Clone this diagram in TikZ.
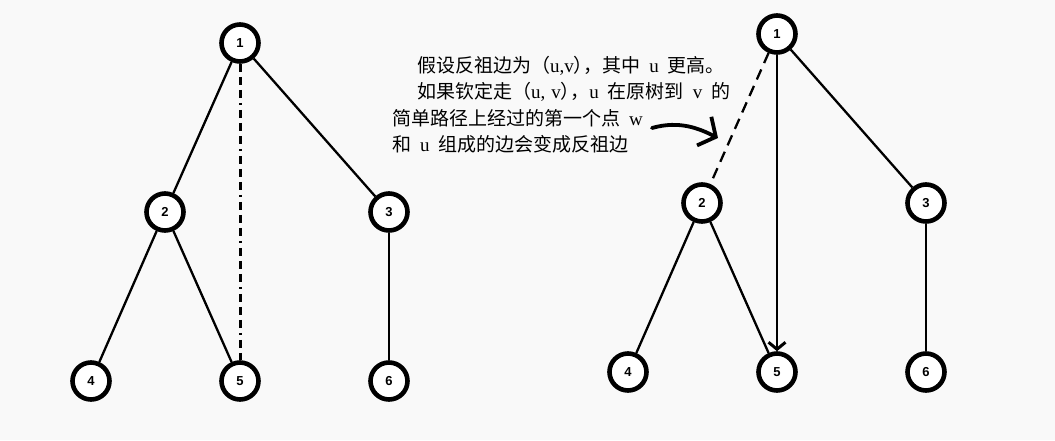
\documentclass[tikz,border=0pt]{standalone}
\usepackage{fontspec}
\setmainfont{Liberation Serif}
\newfontfamily\cjk{Noto Sans CJK SC}
\newfontfamily\cjkh[RawFeature=+halt]{Noto Sans CJK SC}
\newfontfamily\numfont{Liberation Sans}
\usetikzlibrary{arrows.meta}
\definecolor{bgc}{RGB}{249,249,249}
\begin{document}
\begin{tikzpicture}[x=1pt,y=-1pt,
  treenode/.style={circle,draw,line width=4.6pt,fill=white,minimum size=37pt,inner sep=0pt,
    font=\numfont\bfseries\fontsize{13}{13}\selectfont},
  edge/.style={line width=2.3pt},
  backdash/.style={line width=3pt,dash pattern=on 8pt off 5pt on 8pt off 5pt on 8pt off 5pt on 2pt off 5pt},
  newdash/.style={line width=2.3pt,dash pattern=on 11pt off 7pt},
  txt/.style={anchor=base west,inner sep=0pt,font=\fontsize{19}{19}\selectfont}]
\fill[bgc] (0,0) rectangle (1055,440);
\useasboundingbox (0,0) rectangle (1055,440);
% left tree
\node[treenode] (L1) at (240,43) {1};
\node[treenode] (L2) at (165,212) {2};
\node[treenode] (L3) at (389,212) {3};
\node[treenode] (L4) at (91,381) {4};
\node[treenode] (L5) at (240,381) {5};
\node[treenode] (L6) at (389,381) {6};
\draw[edge] (L1) -- (L2);
\draw[edge] (L1) -- (L3);
\draw[edge] (L2) -- (L4);
\draw[edge] (L2) -- (L5);
\draw[edge] (L3) -- (L6);
\draw[backdash] (L1) -- (L5);
% right tree
\node[treenode] (R1) at (777,34) {1};
\node[treenode] (R2) at (702,203) {2};
\node[treenode] (R3) at (926,203) {3};
\node[treenode] (R4) at (628,372) {4};
\node[treenode] (R5) at (777,372) {5};
\node[treenode] (R6) at (926,372) {6};
\draw[edge] (R1) -- (R3);
\draw[edge] (R2) -- (R4);
\draw[edge] (R2) -- (R5);
\draw[edge] (R3) -- (R6);
\draw[newdash] (R1) -- (R2);
\draw[edge,-{Straight Barb[length=7pt,width=17pt,line width=3pt]}] (R1) -- (R5);
% text
\node[txt] (t1) at (417,72.5) {{\cjk 假设反祖边为（}u,v{\cjkh ）}{\cjk ，其中}\hspace{9pt}u\hspace{9pt}{\cjk 更高。}};
\node[txt] (t2) at (417,98.5) {{\cjk 如果钦定走（}u,\hspace{6pt}v{\cjkh ）}{\cjk ，}u\hspace{9pt}{\cjk 在原树到}\hspace{9pt}v\hspace{9pt}{\cjk 的}};
\node[txt] (t3) at (392,125) {{\cjk 简单路径上经过的第一个点}\hspace{9pt}w};
\node[txt] (t4) at (392,151) {{\cjk 和}\hspace{9pt}u\hspace{9pt}{\cjk 组成的边会变成反祖边}};
% hand-drawn arrow
\coordinate (as) at (652,128);
\coordinate (ae) at (718,138);
\draw[line width=3.8pt,line cap=round,-{Straight Barb[length=13pt,width=32pt,line width=3.8pt]}]
  (as) .. controls (680,120) and (700,129) .. (ae);
\end{tikzpicture}
\end{document}
